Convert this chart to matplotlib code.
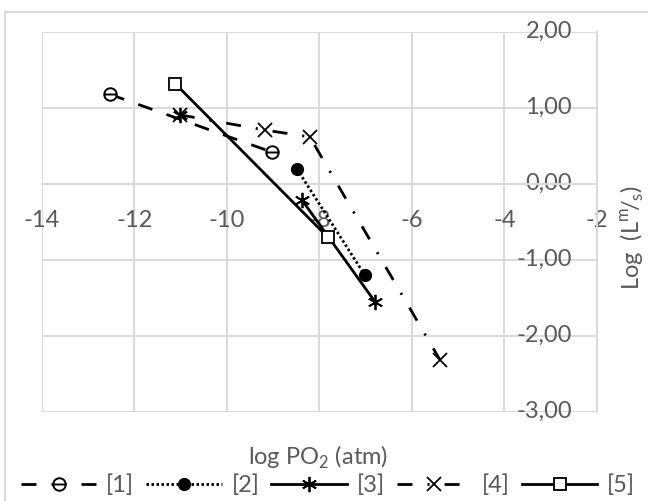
import matplotlib
matplotlib.use("Agg")
import matplotlib.pyplot as plt
import matplotlib.transforms as mtransforms
from matplotlib.path import Path
import numpy as np

# data (log PO2 vs log L)
x1 = [-12.53, -9.03]
y1 = [1.18, 0.42]
x2 = [-8.49, -7.02]
y2 = [0.20, -1.20]
x3 = [-11.02, np.nan, -8.38, -6.80]
y3 = [0.91, np.nan, -0.21, -1.55]
x4 = [-11.02, -9.18, -8.21, -5.39]
y4 = [0.91, 0.71, 0.62, -2.32]
x5 = [-11.12, -7.82]
y5 = [1.32, -0.70]
labels = ['[1]', '[2]', '[3]', '[4]', '[5]']

xticks = [-14, -12, -10, -8, -6, -4, -2]
xtick_labels = ['-14', '-12', '-10', '-8', '-6', '-4', '-2']
yticks = [2, 1, 0, -1, -2, -3]
ytick_labels = ['2,00', '1,00', '0,00', '-1,00', '-2,00', '-3,00']

plt.rcParams['font.family'] = ['Lato', 'DejaVu Sans']
plt.rcParams['lines.scale_dashes'] = False
txt = '#595959'
grid = '#d9d9d9'
fs = 17

fig = plt.figure(figsize=(6.48, 5.01), dpi=100)
ax = fig.add_axes([42/648, 1-412/501, 555/648, 380/501])
ax.set_xlim(-14, -2)
ax.set_ylim(-3, 2)

# circle with a bar, like the excel marker
circ_bar = Path.make_compound_path(Path.unit_circle(),
                                   Path([[-1, 0], [1, 0]], [Path.MOVETO, Path.LINETO]))

ax.plot(x1, y1, c='k', lw=2, ls=(0, (10.8, 10.8)), marker=circ_bar, ms=9,
        mfc='white', mew=1.4, label=labels[0], zorder=3)
ax.plot(x2, y2, c='k', lw=2, ls=(0, (1.8, 1.8)), marker='o', ms=8.5,
        label=labels[1], zorder=3)
ax.plot(x3, y3, c='k', lw=2, ls='-', marker=(6, 2, 0), ms=11, mew=1.3,
        label=labels[2], zorder=3)
ax.plot(x4, y4, c='k', lw=2, ls=(0, (10.8, 10.8, 1.5, 10.8)), marker='x', ms=10,
        mew=1.3, label=labels[3], zorder=3)
ax.plot(x5, y5, c='k', lw=2, ls='-', marker='s', ms=9, mfc='white', mew=1.3,
        label=labels[4], zorder=3)

ax.set_xticks(xticks)
ax.set_xticklabels(xtick_labels)
ax.set_yticks(yticks)
ax.set_yticklabels(ytick_labels)
ax.grid(True, color=grid, lw=1.4, zorder=0)
for gl in ax.get_xgridlines() + ax.get_ygridlines():
    gl.set_clip_on(False)

for s in ['top', 'right']:
    ax.spines[s].set_visible(False)
ax.spines['bottom'].set_position(('data', 0))
ax.spines['left'].set_position(('data', -2))
ax.spines['bottom'].set_color(grid)
ax.spines['left'].set_color(grid)
ax.spines['bottom'].set_linewidth(1.4)
ax.spines['left'].set_linewidth(1.4)
ax.tick_params(axis='x', length=0, pad=19, labelsize=fs, labelcolor=txt)
ax.tick_params(axis='y', length=0, pad=18, labelsize=fs, labelcolor=txt)
shift = mtransforms.ScaledTranslation(0, 0.03, fig.dpi_scale_trans)
for lab in ax.get_yticklabels():
    lab.set_transform(lab.get_transform() + shift)
for lab in ax.get_xticklabels() + ax.get_yticklabels():
    lab.set_zorder(1)

fig.text(318/648, 1-457/501, r'log PO$_\mathregular{2}$ (atm)', ha='center',
         va='center', fontsize=fs, color=txt)
fig.text(632/648, 1-237/501, r'Log  (L$^\mathregular{m}\!$/$_\mathregular{s}$)',
         ha='center', va='center', rotation=90, fontsize=fs, color=txt)

# chart area border
fig.add_artist(plt.Line2D([5/648, 5/648], [0, 1-12/501], color=grid, lw=1.4))
fig.add_artist(plt.Line2D([5/648, 1], [1-12/501, 1-12/501], color=grid, lw=1.4))

leg = fig.legend(loc='center', bbox_to_anchor=(328/648, 1-485/501), ncol=5,
                 frameon=False, fontsize=fs, handlelength=3.2, handletextpad=0.42,
                 columnspacing=0.5, numpoints=1, borderpad=0, borderaxespad=0)
for t in leg.get_texts():
    t.set_color(txt)

fig.savefig('out.png', dpi=100)
